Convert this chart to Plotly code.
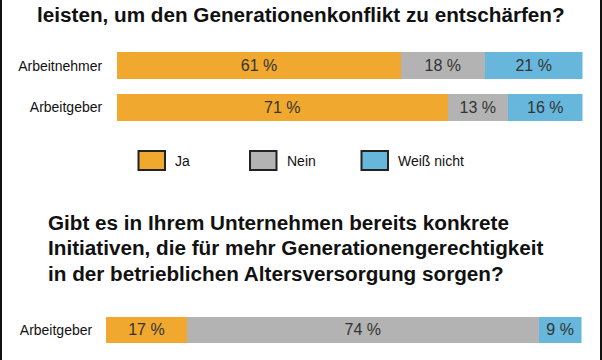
import plotly.graph_objects as go

# ---- data ----
answers = ["Ja", "Nein", "Weiß nicht"]
categories_top = ["Arbeitnehmer", "Arbeitgeber"]
ja_top = [61, 71]
nein_top = [18, 13]
weiss_top = [21, 16]
categories_bottom = ["Arbeitgeber"]
ja_bottom = [17]
nein_bottom = [74]
weiss_bottom = [9]
title_top = "leisten, um den Generationenkonflikt zu entschärfen?"
title_bottom_lines = [
    "Gibt es in Ihrem Unternehmen bereits konkrete",
    "Initiativen, die für mehr Generationengerechtigkeit",
    "in der betrieblichen Altersversorgung sorgen?",
]

colors = ["#F0A92E", "#B3B3B3", "#67B6DC"]
FONT = "Liberation Sans, Arial, sans-serif"
W, H = 602, 360

def py(px):
    return 1 - px / H

def pxx(px):
    return px / W

fig = go.Figure()

top_series = [ja_top, nein_top, weiss_top]
bottom_series = [ja_bottom, nein_bottom, weiss_bottom]

for name, vals, col in zip(answers, top_series, colors):
    fig.add_trace(go.Bar(
        y=categories_top, x=vals, orientation="h", name=name,
        marker=dict(color=col, line=dict(width=0)),
        width=0.65,
        text=[f"{v} %" for v in vals], textposition="inside",
        insidetextanchor="middle", textangle=0, constraintext="none",
        textfont=dict(family=FONT, size=16, color="#333333"),
        xaxis="x", yaxis="y", showlegend=False, hoverinfo="skip",
    ))

for name, vals, col in zip(answers, bottom_series, colors):
    fig.add_trace(go.Bar(
        y=categories_bottom, x=vals, orientation="h", name=name,
        marker=dict(color=col, line=dict(width=0)),
        width=0.65,
        text=[f"{v} %" for v in vals], textposition="inside",
        insidetextanchor="middle", textangle=0, constraintext="none",
        textfont=dict(family=FONT, size=16, color="#333333"),
        xaxis="x2", yaxis="y2", showlegend=False, hoverinfo="skip",
    ))

axis_common = dict(showgrid=False, zeroline=False, showline=False, fixedrange=True)

fig.update_layout(
    width=W, height=H,
    margin=dict(l=0, r=0, t=0, b=0),
    paper_bgcolor="white", plot_bgcolor="white",
    barmode="stack",
    font=dict(family=FONT, color="#111111"),
    xaxis=dict(domain=[pxx(117), pxx(582.5)], range=[0, 100], showticklabels=False,
               anchor="y", **axis_common),
    yaxis=dict(domain=[py(128.2), py(45)], range=[1.5, -0.5], anchor="x",
               ticks="outside", ticklen=11, tickcolor="rgba(0,0,0,0)",
               tickfont=dict(family=FONT, size=14, color="#111111"), **axis_common),
    xaxis2=dict(domain=[pxx(106), pxx(581.5)], range=[0, 100], showticklabels=False,
                anchor="y2", **axis_common),
    yaxis2=dict(domain=[py(349.5), py(310.5)], range=[0.5, -0.5], anchor="x2",
                ticks="outside", ticklen=10, tickcolor="rgba(0,0,0,0)",
                tickfont=dict(family=FONT, size=14, color="#111111"), **axis_common),
)

annotations = []
annotations.append(dict(
    text=f"<b>{title_top}</b>", x=pxx(301), y=py(15), xref="paper", yref="paper",
    xanchor="center", yanchor="middle", showarrow=False,
    font=dict(family=FONT, size=20.7, color="#111111"),
))
for i, line in enumerate(title_bottom_lines):
    annotations.append(dict(
        text=f"<b>{line}</b>", x=pxx(46), y=py(222 + 25.5 * i), xref="paper", yref="paper",
        xanchor="left", yanchor="middle", showarrow=False,
        font=dict(family=FONT, size=20.7, color="#111111"),
    ))

shapes = []
# legend
leg_x0, leg_step, box_w, box_top, box_bot = 138.5, 111.5, 26.5, 151, 170
for i, (name, col) in enumerate(zip(answers, colors)):
    x0 = leg_x0 + i * leg_step
    shapes.append(dict(type="rect", xref="paper", yref="paper",
                       x0=pxx(x0), x1=pxx(x0 + box_w), y0=py(box_bot), y1=py(box_top),
                       fillcolor=col, line=dict(color="#222222", width=2)))
    annotations.append(dict(
        text=name, x=pxx(x0 + box_w + 8), y=py((box_top + box_bot) / 2),
        xref="paper", yref="paper", xanchor="left", yanchor="middle", showarrow=False,
        font=dict(family=FONT, size=14, color="#111111"),
    ))

# frame lines left and right
for xpx in (1, 601):
    shapes.append(dict(type="line", xref="paper", yref="paper",
                       x0=pxx(xpx), x1=pxx(xpx), y0=0, y1=1,
                       line=dict(color="#111111", width=2)))

fig.update_layout(annotations=annotations, shapes=shapes)

fig.write_html("out.html", config={"displayModeBar": False},
               post_script="document.body.style.margin='0';document.body.style.overflow='hidden';")
